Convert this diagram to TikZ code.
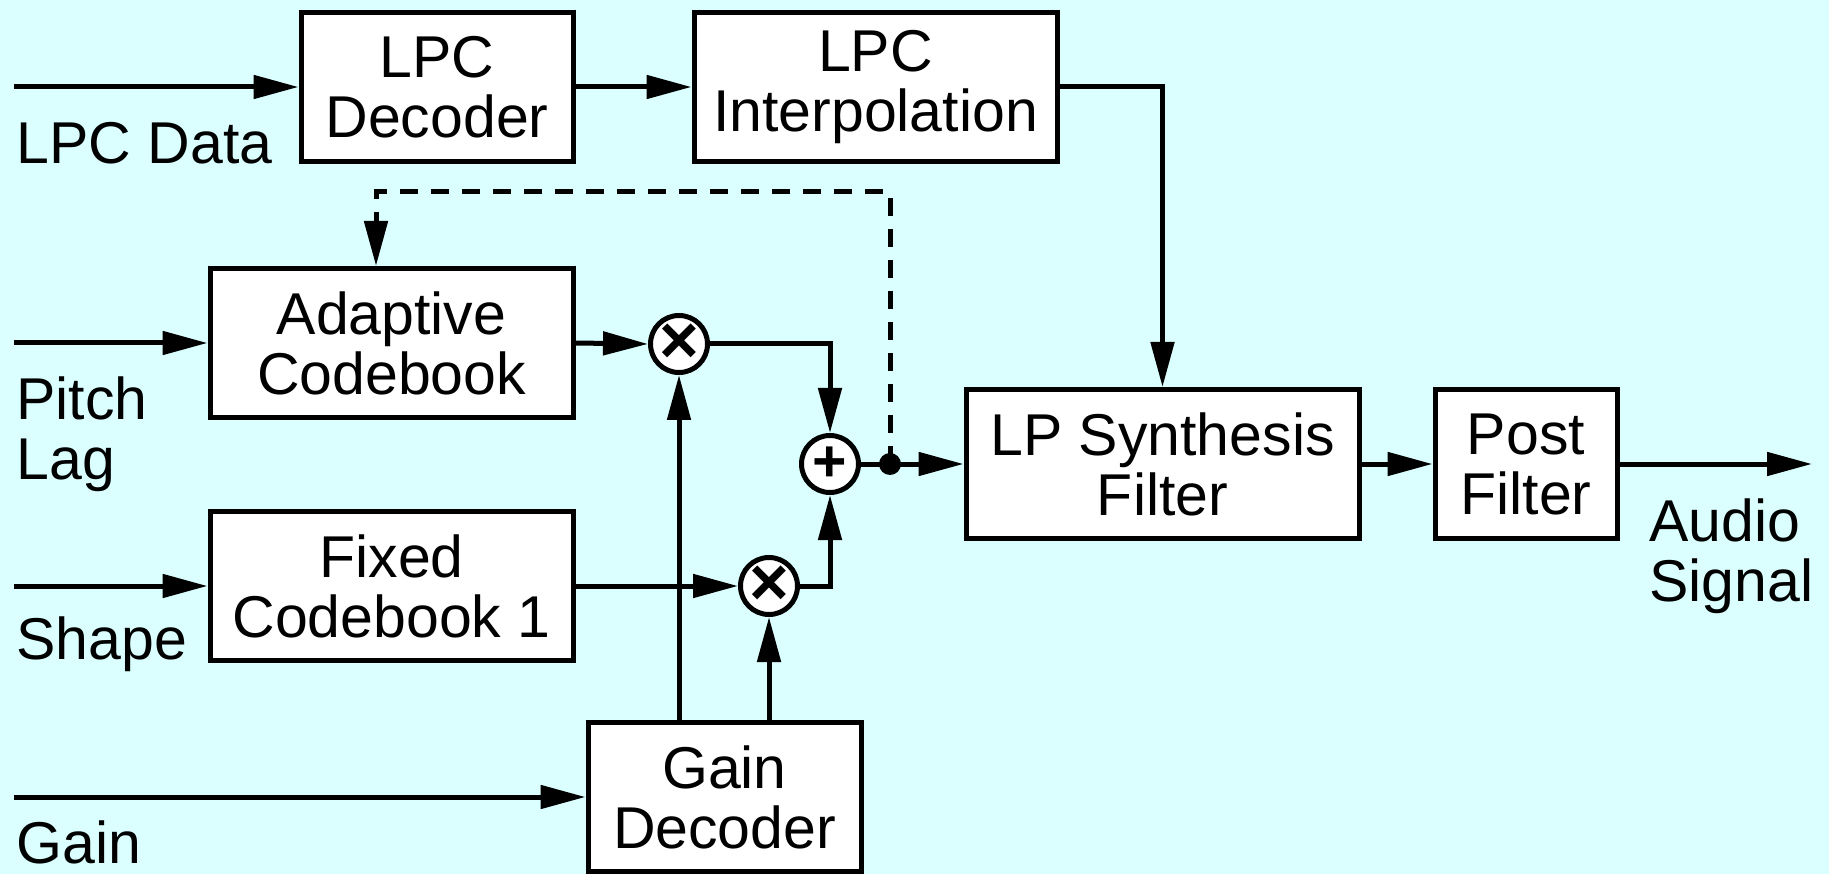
\documentclass[tikz,border=0pt]{standalone}
\usepackage{fontspec}
\setmainfont{Liberation Sans}
\usetikzlibrary{arrows.meta}
\definecolor{bgcyan}{RGB}{219,255,255}

\begin{document}
\begin{tikzpicture}[
		x=1pt, y=-1pt,
		line width=5pt,
		>={Triangle[length=45pt, width=23pt]},
		font=\fontsize{59}{60}\selectfont,
		block/.style={draw, fill=white, align=center, inner sep=0pt, minimum height=149pt},
		junction/.style={circle, draw, fill=white, minimum size=57pt, inner sep=-20pt, font=\fontsize{68}{68}\selectfont\bfseries},
		tap/.style={circle, fill=black, minimum size=22pt, inner sep=0pt},
		sig label/.style={anchor=west, align=left, inner sep=0pt},
		feedback/.style={dash pattern=on 18pt off 13pt}
		]
		
		% ---------------------------------------------------------
		% Page and background
		% ---------------------------------------------------------
		\useasboundingbox (0,0) rectangle (1829,874);
		\fill[bgcyan] (0,0) rectangle (1829,874);
		
		% ---------------------------------------------------------
		% Blocks
		% ---------------------------------------------------------
		\node[block, minimum width=272pt] (lpcdec) at (437,87) {LPC\\Decoder};
		\node[block, minimum width=363pt] (lpcint) at (875.5,87) {LPC\\Interpolation};
		\node[block, minimum width=363pt] (adapt) at (391.5,343) {Adaptive\\Codebook};
		\node[block, minimum width=363pt] (fixed) at (391.5,586) {Fixed\\Codebook 1};
		\node[block, minimum width=273pt] (gaindec) at (724.5,797) {Gain\\Decoder};
		\node[block, minimum width=393pt] (synth) at (1162.5,464) {LP Synthesis\\Filter};
		\node[block, minimum width=182pt] (post) at (1526,464) {Post\\Filter};
		
		% Multipliers, adder and the tap point
		\node[junction] (mulA) at (679,344) {×};
		\node[junction] (mulF) at (769,586) {×};
		\node[junction, font=\fontsize{59}{59}\selectfont\bfseries] (adder) at (830,464) {+};
		\node[tap] (tapp) at (890,464) {};
		
		% ---------------------------------------------------------
		% Inputs and output
		% ---------------------------------------------------------
		\coordinate (inLPC) at (14,87);
		\coordinate (inPitch) at (14,343);
		\coordinate (inShape) at (14,586);
		\coordinate (inGain) at (14,797);
		\coordinate (audioout) at (1812,464);
		\coordinate (fbk) at (376,192);
		
		\node[sig label] (lpcdata) at (14,143) {LPC Data};
		\node[sig label] (pitchlag) at (14,434) {Pitch\\Lag};
		\node[sig label] (shape) at (14,644) {Shape};
		\node[sig label] (gain) at (14,842) {Gain};
		\node[sig label] (audiosig) at (1647,556) {Audio\\Signal};
		
		% ---------------------------------------------------------
		% Connections
		% ---------------------------------------------------------
		\draw[->] (inLPC) -- (lpcdec.west);
		\draw[->] (lpcdec.east) -- (lpcint.west);
		\draw[->] (lpcint.east) -| (synth.north);
		
		\draw[->] (inPitch) -- (adapt.west);
		\draw[->] (adapt.east) -- (mulA.west);
		\draw[->] (mulA.east) -| (adder.north);
		
		\draw[->] (inShape) -- (fixed.west);
		\draw[->] (fixed.east) -- (mulF.west);
		\draw[->] (mulF.east) -| (adder.south);
		
		\draw[->] (inGain) -- (gaindec.west);
		\draw[->] (gaindec.north -| mulA) -- (mulA.south);
		\draw[->] (gaindec.north -| mulF) -- (mulF.south);
		
		\draw (adder.east) -- (tapp.center);
		\draw[->] (tapp.center) -- (synth.west);
		\draw[->, feedback] (tapp.center) |- (fbk) -- (fbk |- adapt.north);
		
		\draw[->] (synth.east) -- (post.west);
		\draw[->] (post.east) -- (audioout);
		
	\end{tikzpicture}
\end{document}
